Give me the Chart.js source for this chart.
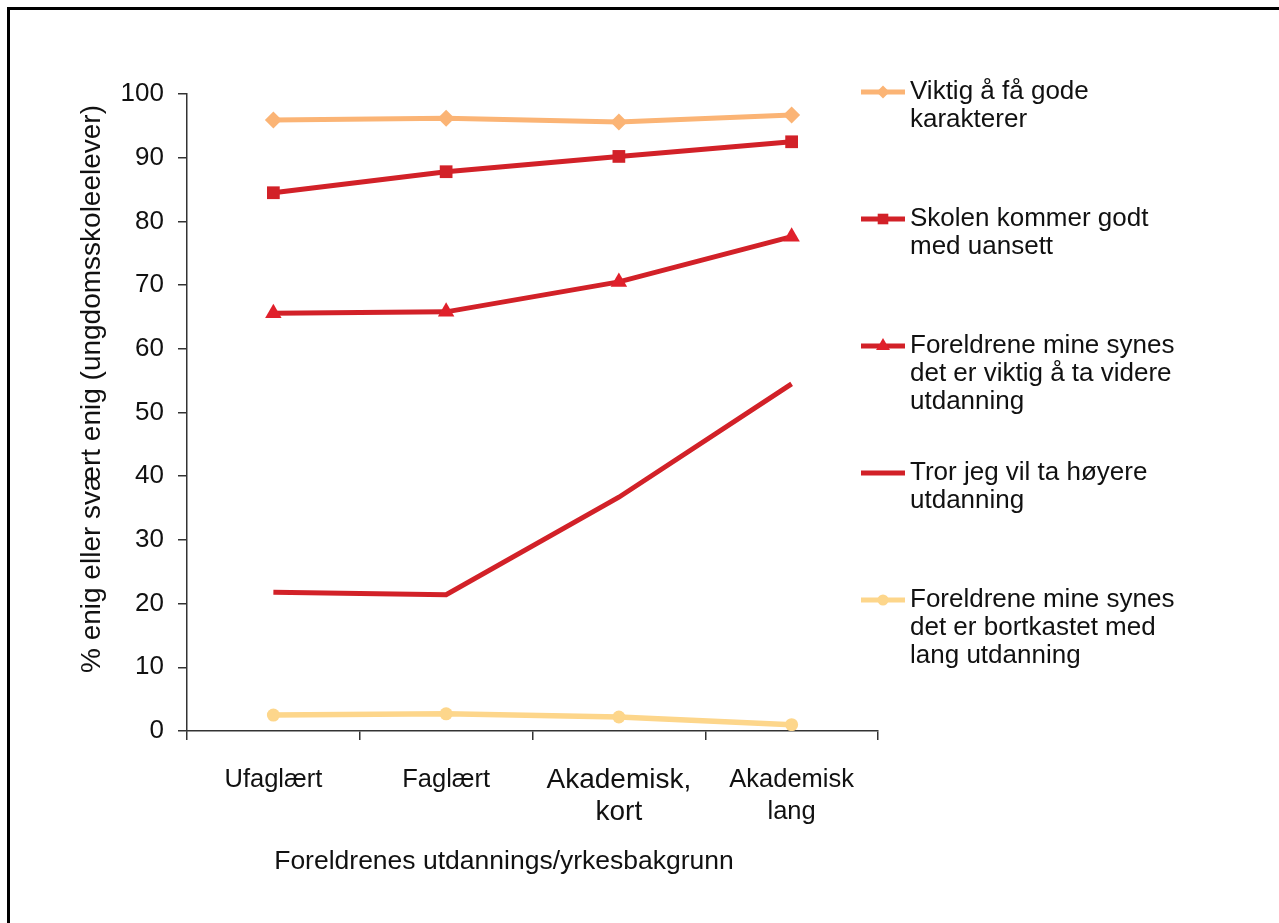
<!DOCTYPE html>
<html>
<head>
<meta charset="utf-8">
<script src="https://cdn.jsdelivr.net/npm/chart.js@4.4.1/dist/chart.umd.min.js"></script>
<style>
  html, body { margin: 0; padding: 0; background: #fff; overflow: hidden; }
  #wrap { position: relative; width: 1279px; height: 923px; }
  #frame { position: absolute; left: 7px; top: 7px; width: 1400px; height: 1000px; border: 3px solid #000; box-sizing: border-box; }
  #c { position: absolute; left: 0; top: 0; }
</style>
</head>
<body>
<div id="wrap">
  <div id="frame"></div>
  <canvas id="c" width="1279" height="923"></canvas>
</div>
<script>
// Parents' educational / occupational background
const categories = ['Ufaglært', 'Faglært', ['Akademisk,', 'kort'], ['Akademisk', 'lang']];

// Share (%) of lower secondary pupils who agree or strongly agree
const karakterer   = [95.9, 96.2, 95.6, 96.7];
const skolenGodt   = [84.5, 87.8, 90.2, 92.5];
const viktigVidere = [65.6, 65.8, 70.5, 77.6];
const hoyereUtd    = [21.8, 21.4, 36.7, 54.5];
const bortkastet   = [2.5, 2.7, 2.2, 1.0];

// Legend texts, one entry per series, split into lines
const legendKarakterer   = ['Viktig å få gode', 'karakterer'];
const legendSkolenGodt   = ['Skolen kommer godt', 'med uansett'];
const legendViktigVidere = ['Foreldrene mine synes', 'det er viktig å ta videre', 'utdanning'];
const legendHoyereUtd    = ['Tror jeg vil ta høyere', 'utdanning'];
const legendBortkastet   = ['Foreldrene mine synes', 'det er bortkastet med', 'lang utdanning'];

// Axis titles
const xTitle = 'Foreldrenes utdannings/yrkesbakgrunn';
const yTitle = '% enig eller svært enig (ungdomsskoleelever)';

// Y axis range and step
const yMin = 0, yMax = 100, yStep = 10;

const FONT = 'Liberation Sans, Arial, Helvetica, sans-serif';
const ORANGE = '#FBB475';
const RED = '#D22128';
const RED_MARK = '#E0202B';
const YELLOW = '#FDD68B';

const datasets = [
  { label: legendKarakterer, data: karakterer, borderColor: ORANGE, backgroundColor: ORANGE,
    pointStyle: 'rectRot', pointRadius: 8.5, borderWidth: 5, legendRadius: 6.5 },
  { label: legendSkolenGodt, data: skolenGodt, borderColor: RED, backgroundColor: RED,
    pointStyle: 'rect', pointRadius: 9, borderWidth: 5, legendRadius: 7.5 },
  { label: legendViktigVidere, data: viktigVidere, borderColor: RED, backgroundColor: RED_MARK,
    pointStyle: 'triangle', pointRadius: 9.5, borderWidth: 5, legendRadius: 8 },
  { label: legendHoyereUtd, data: hoyereUtd, borderColor: RED, backgroundColor: RED,
    pointStyle: false, pointRadius: 0, borderWidth: 5, legendRadius: 0 },
  { label: legendBortkastet, data: bortkastet, borderColor: YELLOW, backgroundColor: YELLOW,
    pointStyle: 'circle', pointRadius: 6.5, borderWidth: 5.5, legendRadius: 5.5 }
];
datasets.forEach(d => {
  d.pointBorderWidth = 0;
  d.pointHoverRadius = d.pointRadius;
  d.tension = 0;
  d.fill = false;
});

// Legend drawn to the right of the plot, one block per series, plus the two axis titles
const sideLegend = {
  id: 'sideLegend',
  afterDraw(chart) {
    const ctx = chart.ctx;
    const lineX0 = 861, lineX1 = 905, textX = 910;
    const firstY = 92, blockStep = 127, lineStep = 28;
    ctx.save();
    chart.data.datasets.forEach((ds, i) => {
      const y = firstY + i * blockStep;
      ctx.strokeStyle = ds.borderColor;
      ctx.lineWidth = 5;
      ctx.lineCap = 'butt';
      ctx.beginPath();
      ctx.moveTo(lineX0, y);
      ctx.lineTo(lineX1, y);
      ctx.stroke();
      if (ds.pointStyle) {
        ctx.fillStyle = ds.backgroundColor;
        ctx.strokeStyle = ds.backgroundColor;
        Chart.helpers.drawPoint(ctx, { pointStyle: ds.pointStyle, radius: ds.legendRadius, rotation: 0, borderWidth: 0 },
          (lineX0 + lineX1) / 2, y);
      }
      ctx.fillStyle = '#111';
      ctx.font = '26px ' + FONT;
      ctx.textBaseline = 'middle';
      ctx.textAlign = 'left';
      ds.label.forEach((line, k) => ctx.fillText(line, textX, y + k * lineStep));
    });

    ctx.fillStyle = '#111';
    ctx.textAlign = 'center';
    ctx.textBaseline = 'middle';
    ctx.font = '26.5px ' + FONT;
    ctx.fillText(xTitle, 504, 862);

    ctx.translate(92, 389);
    ctx.rotate(-Math.PI / 2);
    ctx.font = '28px ' + FONT;
    ctx.fillText(yTitle, 0, 0);
    ctx.restore();
  }
};

new Chart(document.getElementById('c'), {
  type: 'line',
  data: { labels: categories, datasets },
  options: {
    responsive: false,
    animation: false,
    events: [],
    layout: { padding: { left: 80, right: 401, top: 94, bottom: 48 } },
    plugins: { legend: { display: false }, tooltip: { enabled: false } },
    scales: {
      x: {
        offset: true,
        grid: { offset: true, drawOnChartArea: false, drawTicks: true, tickLength: 9, color: '#333', lineWidth: 1.5 },
        border: { color: '#333', width: 1.5 },
        ticks: {
          color: '#111',
          padding: 24,
          maxRotation: 0,
          autoSkip: false,
          font: (c) => ({ family: FONT, size: c.index === 2 ? 28 : 25.5, lineHeight: '32px' })
        },
        afterFit(scale) { scale.height = 144; }
      },
      y: {
        min: yMin,
        max: yMax,
        grid: { drawOnChartArea: false, drawTicks: true, tickLength: 9, color: '#333', lineWidth: 1.5 },
        border: { color: '#333', width: 1.5 },
        ticks: {
          stepSize: yStep,
          color: '#111',
          padding: 14,
          font: { family: FONT, size: 26 }
        },
        afterFit(scale) { scale.width = 107; }
      }
    }
  },
  plugins: [sideLegend]
});
</script>
</body>
</html>
